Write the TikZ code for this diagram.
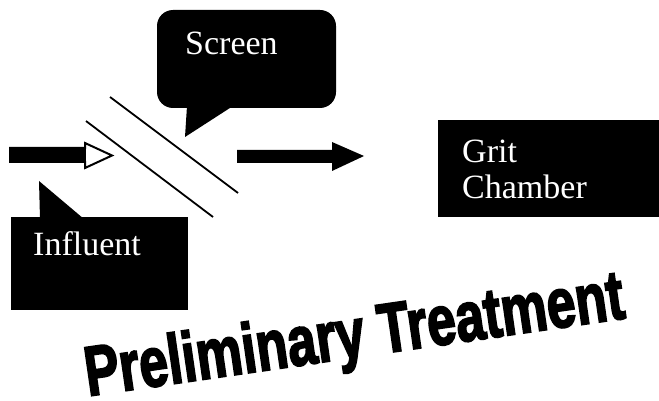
\documentclass[tikz,border=0pt]{standalone}
\usepackage{fontspec}
\setmainfont{Liberation Serif}
\newfontfamily\titlefont{Liberation Sans}[BoldFeatures={FakeBold=3}]
\tikzset{
  lbl/.style={anchor=base west, text=white, inner sep=0pt, font=\fontsize{34}{34}\selectfont},
  blk/.style={fill=black},
  screenline/.style={draw=black, line width=1.8pt}
}
\begin{document}
\begin{tikzpicture}[x=1pt,y=-1pt]
\useasboundingbox (0,0) rectangle (659,401);
% Screen callout
\fill[blk, rounded corners=16pt] (157,10) rectangle (336,108);
\fill[blk] (187,106) -- (185,137) -- (233,106) -- cycle;
\node[lbl] (screen) at (185,55) {Screen};
% screen lines
\coordinate (l1a) at (110,97); \coordinate (l1b) at (238,193);
\coordinate (l2a) at (86,121); \coordinate (l2b) at (213,217);
\draw[screenline] (l1a) -- (l1b);
\draw[screenline] (l2a) -- (l2b);
% Influent callout
\fill[blk] (11,217) rectangle (188,310);
\fill[blk] (40,219) -- (39,181) -- (84,219) -- cycle;
\node[lbl] (influent) at (33,255) {Influent};
% Left arrow
\draw[fill=white, line width=2pt, line join=miter]
  (10,148) -- (85,148) -- (85,143) -- (112,155.5) -- (85,168) -- (85,162) -- (10,162) -- cycle;
\fill[blk] (10,148) rectangle (86,162);
% Middle arrow
\fill[blk] (237,150) -- (332,150) -- (332,142) -- (364,156) -- (332,171) -- (332,163) -- (237,163) -- cycle;
% Grit chamber
\fill[blk] (438,120) rectangle (660,217);
\node[lbl] (grit) at (462,163) {Grit};
\node[lbl] (chamber) at (462,198) {Chamber};
% Title
\node[anchor=base west, inner sep=0pt, rotate=8.25, font=\titlefont\bfseries\fontsize{70}{70}\selectfont] (title) at (88,396)
  {\scalebox{0.74}[1]{Preliminary Treatment}};
\end{tikzpicture}
\end{document}
